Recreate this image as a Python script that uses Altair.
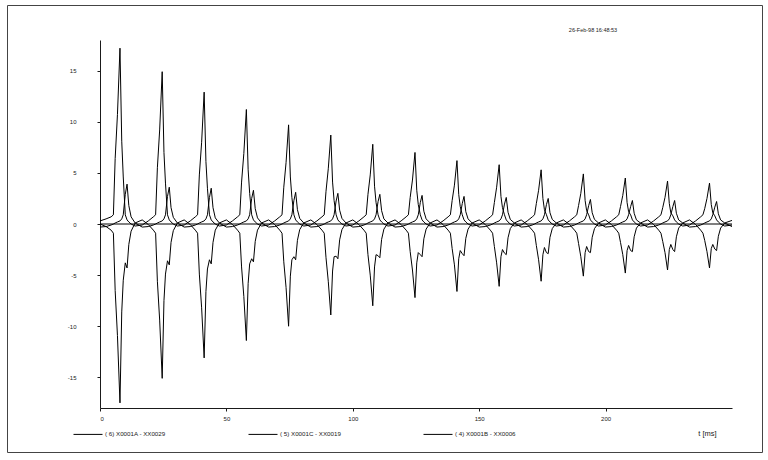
import altair as alt
import pandas as pd

# Transformer inrush recording: three phase currents over ~15 cycles (60 Hz)

# time of each phase-A current peak [ms]
peak_t = [7.9, 24.6, 41.2, 57.9, 74.6, 91.3, 107.9, 124.6, 141.2, 157.9,
          174.5, 191.2, 207.8, 224.5, 241.1]

# sample offsets inside each cycle, relative to that cycle's peak [ms]
offs = [-7.9, -5.5, -3.5, -2.6, -1.9, -1.0, 0.0, 0.7, 1.3, 2.1, 2.8, 3.5, 4.4, 6.0]

# ( 6) X0001A - XX0029 : one row per cycle
a_rows = [
    [0.3, 0.5, 0.7, 0.9, 6.4, 10.7, 17.2, 8.1, 4.6, 0.9, 0.4, 0.2, 0.0, -0.2],
    [-0.1, 0.3, 0.7, 0.9, 5.5, 9.2, 14.9, 7.0, 4.0, 0.9, 0.4, 0.2, 0.0, -0.2],
    [-0.1, 0.3, 0.7, 0.9, 4.8, 8.0, 12.9, 6.1, 3.5, 0.9, 0.4, 0.2, 0.0, -0.2],
    [-0.1, 0.3, 0.7, 0.9, 4.1, 6.9, 11.2, 5.3, 3.0, 0.9, 0.4, 0.2, 0.0, -0.2],
    [-0.1, 0.3, 0.7, 0.9, 3.6, 6.0, 9.7, 4.6, 2.6, 0.9, 0.4, 0.2, 0.0, -0.2],
    [-0.1, 0.3, 0.7, 0.9, 3.2, 5.4, 8.7, 4.1, 2.3, 0.9, 0.4, 0.2, 0.0, -0.2],
    [-0.1, 0.3, 0.7, 0.9, 2.9, 4.8, 7.8, 3.7, 2.1, 0.9, 0.4, 0.2, 0.0, -0.2],
    [-0.1, 0.3, 0.7, 0.9, 2.6, 4.3, 7.0, 3.3, 1.9, 0.9, 0.4, 0.2, 0.0, -0.2],
    [-0.1, 0.3, 0.7, 0.9, 2.3, 3.8, 6.2, 2.9, 1.7, 0.9, 0.4, 0.2, 0.0, -0.2],
    [-0.1, 0.3, 0.7, 0.9, 2.1, 3.6, 5.8, 2.7, 1.6, 0.9, 0.4, 0.2, 0.0, -0.2],
    [-0.1, 0.3, 0.7, 0.9, 2.0, 3.3, 5.3, 2.5, 1.4, 0.9, 0.4, 0.2, 0.0, -0.2],
    [-0.1, 0.3, 0.7, 0.9, 1.8, 3.0, 4.9, 2.3, 1.3, 0.9, 0.4, 0.2, 0.0, -0.2],
    [-0.1, 0.3, 0.7, 0.9, 1.7, 2.8, 4.5, 2.1, 1.2, 0.9, 0.4, 0.2, 0.0, -0.2],
    [-0.1, 0.3, 0.7, 0.9, 1.6, 2.6, 4.2, 2.0, 1.1, 0.8, 0.4, 0.2, 0.0, -0.2],
    [-0.1, 0.3, 0.7, 0.9, 1.5, 2.5, 4.0, 1.9, 1.1, 0.8, 0.4, 0.2, 0.0, -0.2],
]

# ( 4) X0001B - XX0006
b_rows = [
    [-0.3, -0.25, -0.1, 0.0, 0.1, 0.2, 0.3, 0.5, 0.9, 2.9, 3.9, 1.8, 0.7, 0.1],
    [-0.3, -0.25, -0.1, 0.0, 0.1, 0.2, 0.3, 0.5, 0.9, 2.7, 3.6, 1.6, 0.65, 0.1],
    [-0.3, -0.25, -0.1, 0.0, 0.1, 0.2, 0.3, 0.5, 0.9, 2.6, 3.5, 1.6, 0.6, 0.1],
    [-0.3, -0.25, -0.1, 0.0, 0.1, 0.2, 0.3, 0.5, 0.9, 2.5, 3.3, 1.5, 0.6, 0.1],
    [-0.3, -0.25, -0.1, 0.0, 0.1, 0.2, 0.3, 0.5, 0.9, 2.3, 3.1, 1.4, 0.55, 0.1],
    [-0.3, -0.25, -0.1, 0.0, 0.1, 0.2, 0.3, 0.5, 0.9, 2.25, 3.0, 1.35, 0.55, 0.1],
    [-0.3, -0.25, -0.1, 0.0, 0.1, 0.2, 0.3, 0.5, 0.9, 2.2, 2.9, 1.3, 0.5, 0.1],
    [-0.3, -0.25, -0.1, 0.0, 0.1, 0.2, 0.3, 0.5, 0.9, 2.1, 2.8, 1.25, 0.5, 0.1],
    [-0.3, -0.25, -0.1, 0.0, 0.1, 0.2, 0.3, 0.5, 0.9, 2.0, 2.7, 1.2, 0.5, 0.1],
    [-0.3, -0.25, -0.1, 0.0, 0.1, 0.2, 0.3, 0.5, 0.9, 1.95, 2.6, 1.15, 0.45, 0.1],
    [-0.3, -0.25, -0.1, 0.0, 0.1, 0.2, 0.3, 0.5, 0.9, 1.9, 2.5, 1.1, 0.45, 0.1],
    [-0.3, -0.25, -0.1, 0.0, 0.1, 0.2, 0.3, 0.5, 0.9, 1.8, 2.4, 1.1, 0.45, 0.1],
    [-0.3, -0.25, -0.1, 0.0, 0.1, 0.2, 0.3, 0.5, 0.9, 1.7, 2.3, 1.05, 0.4, 0.1],
    [-0.3, -0.25, -0.1, 0.0, 0.1, 0.2, 0.3, 0.5, 0.9, 1.7, 2.3, 1.05, 0.4, 0.1],
    [-0.3, -0.25, -0.1, 0.0, 0.1, 0.2, 0.3, 0.5, 0.9, 1.65, 2.2, 1.0, 0.4, 0.1],
]

# ( 5) X0001C - XX0019
c_rows = [
    [0.0, -0.25, -0.6, -0.9, -6.5, -10.9, -17.5, -8.6, -5.5, -3.8, -4.3, -2.0, -0.7, 0.1],
    [0.4, -0.05, -0.6, -0.9, -5.6, -9.4, -15.1, -7.5, -4.9, -3.6, -4.0, -1.8, -0.65, 0.1],
    [0.4, -0.05, -0.6, -0.9, -4.9, -8.2, -13.1, -6.6, -4.4, -3.5, -3.9, -1.8, -0.6, 0.1],
    [0.4, -0.05, -0.6, -0.9, -4.2, -7.1, -11.4, -5.8, -3.9, -3.4, -3.7, -1.7, -0.6, 0.1],
    [0.4, -0.05, -0.6, -0.9, -3.7, -6.2, -10.0, -5.1, -3.5, -3.2, -3.5, -1.6, -0.55, 0.1],
    [0.4, -0.05, -0.6, -0.9, -3.3, -5.6, -8.9, -4.6, -3.2, -3.15, -3.4, -1.55, -0.55, 0.1],
    [0.4, -0.05, -0.6, -0.9, -3.0, -5.0, -8.0, -4.2, -3.0, -3.1, -3.3, -1.5, -0.5, 0.1],
    [0.4, -0.05, -0.6, -0.9, -2.7, -4.5, -7.2, -3.8, -2.8, -3.0, -3.2, -1.45, -0.5, 0.1],
    [0.4, -0.05, -0.6, -0.9, -2.4, -4.0, -6.6, -3.4, -2.6, -2.9, -3.1, -1.4, -0.5, 0.1],
    [0.4, -0.05, -0.6, -0.9, -2.2, -3.8, -6.1, -3.2, -2.5, -2.85, -3.0, -1.35, -0.45, 0.1],
    [0.4, -0.05, -0.6, -0.9, -2.1, -3.5, -5.6, -3.0, -2.3, -2.8, -2.9, -1.3, -0.45, 0.1],
    [0.4, -0.05, -0.6, -0.9, -1.9, -3.2, -5.1, -2.8, -2.2, -2.7, -2.8, -1.3, -0.45, 0.1],
    [0.4, -0.05, -0.6, -0.9, -1.8, -3.0, -4.8, -2.6, -2.1, -2.6, -2.7, -1.25, -0.4, 0.1],
    [0.4, -0.05, -0.6, -0.9, -1.7, -2.8, -4.5, -2.5, -2.0, -2.5, -2.7, -1.25, -0.4, 0.1],
    [0.4, -0.05, -0.6, -0.9, -1.6, -2.7, -4.3, -2.4, -2.0, -2.45, -2.6, -1.2, -0.4, 0.1],
]

# last sample of the record
tail_t = 250.0
tail_vals = {"a": -0.1, "b": -0.25, "c": 0.35}

names = {
    "a": "( 6) X0001A - XX0029",
    "c": "( 5) X0001C - XX0019",
    "b": "( 4) X0001B - XX0006",
}
legend_order = [names["a"], names["c"], names["b"]]

x_ticks = [0, 50, 100, 150, 200]
y_ticks = [-15, -10, -5, 0, 5, 10, 15]
stamp = "26-Feb-98  16:48:53"

records = []
for key, rows in (("a", a_rows), ("b", b_rows), ("c", c_rows)):
    for tp, row in zip(peak_t, rows):
        for dt, v in zip(offs, row):
            records.append({"t": round(tp + dt, 2), "i": v, "s": names[key]})
    records.append({"t": tail_t, "i": tail_vals[key], "s": names[key]})
df = pd.DataFrame(records)

FONT = "Liberation Sans"
INK = "#1a1a1a"
TXT = "#222222"

x_enc = alt.X(
    "t:Q",
    scale=alt.Scale(domain=[0, 250], nice=False, zero=False),
    axis=alt.Axis(
        values=x_ticks, grid=False, tickSize=3, labelPadding=4,
        labelFontSize=6, labelColor=TXT, labelExpr="'' + datum.value",
        domainColor=INK, tickColor=INK,
        title="t [ms]", titleFontSize=7.5, titleFontWeight="normal",
        titleColor=TXT, titleX=607, titleY=25,
        titleAlign="center", titleBaseline="middle",
    ),
)
y_enc = alt.Y(
    "i:Q",
    scale=alt.Scale(domain=[-18, 18], nice=False, zero=False),
    axis=alt.Axis(
        values=y_ticks, grid=False, tickSize=3, labelPadding=21,
        labelFontSize=6, labelColor=TXT, labelExpr="'' + datum.value",
        domainColor=INK, tickColor=INK, title=None,
    ),
)

lines = alt.Chart(df).mark_line(strokeWidth=1, interpolate="linear").encode(
    x=x_enc,
    y=y_enc,
    stroke=alt.Stroke(
        "s:N",
        scale=alt.Scale(domain=legend_order, range=["black", "black", "black"]),
        legend=alt.Legend(
            title=None, orient="none", legendX=-27, legendY=379,
            direction="horizontal", columns=3, columnPadding=80,
            symbolType="stroke", symbolSize=841, symbolStrokeWidth=1,
            labelFontSize=6.2, labelOffset=2, labelColor=TXT, padding=0,
        ),
    ),
)

one = alt.Data(values=[{}])

zero_line = alt.Chart(one).mark_rule(color="black", strokeWidth=1).encode(
    y=alt.datum(0)
)

frame = alt.Chart(one).mark_rect(
    fillOpacity=0, stroke="#444", strokeWidth=1
).encode(
    x=alt.value(-92.5), x2=alt.value(662.5),
    y=alt.value(-34.5), y2=alt.value(412.5),
)

stamp_text = alt.Chart(one).mark_text(
    text=stamp, fontSize=5.5, color=TXT, align="center", baseline="middle"
).encode(x=alt.value(493), y=alt.value(-10))

chart = (
    alt.layer(frame, zero_line, lines, stamp_text)
    .properties(
        width=632, height=368,
        autosize=alt.AutoSizeParams(type="none"),
        padding={"left": 100, "top": 40, "right": 36, "bottom": 52},
        background="white",
    )
    .configure_view(stroke=None)
    .configure_axis(labelFont=FONT, titleFont=FONT)
    .configure_legend(labelFont=FONT)
    .configure_text(font=FONT)
)

chart.save("out.html", embed_options={"renderer": "svg", "actions": False})
